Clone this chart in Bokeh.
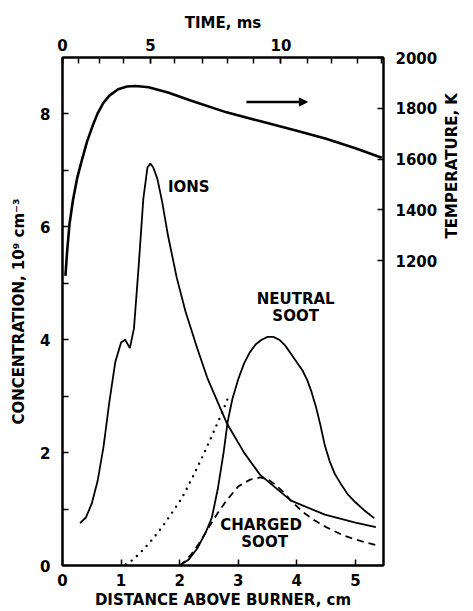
import math
from bokeh.plotting import figure
from bokeh.models import Range1d, LinearAxis, FixedTicker, Label, Arrow, NormalHead
from bokeh.embed import file_html
from bokeh.resources import INLINE

# ---- data (distance above burner, cm) ----
temp_dist = [0.05, 0.08, 0.12, 0.18, 0.25, 0.33, 0.42, 0.51, 0.6, 0.7, 0.8, 0.95, 1.1,
             1.25, 1.47, 1.8, 2.2, 2.8, 3.4, 4.0, 4.5, 5.0, 5.45]
temp_K = [1140, 1240, 1345, 1440, 1525, 1595, 1670, 1728, 1780, 1822, 1850, 1875, 1886,
          1888, 1883, 1862, 1830, 1784, 1748, 1712, 1680, 1643, 1605]

ions_dist = [0.3, 0.4, 0.5, 0.6, 0.7, 0.8, 0.9, 1.0, 1.07, 1.15, 1.22, 1.3, 1.38, 1.45,
             1.5, 1.55, 1.62, 1.7, 1.8, 1.95, 2.1, 2.3, 2.47, 2.81, 3.1, 3.37, 3.9,
             4.48, 5.0, 5.35]
ions = [0.75, 0.85, 1.1, 1.5, 2.1, 2.9, 3.6, 3.95, 4.0, 3.85, 4.2, 5.3, 6.5, 7.05,
        7.12, 7.05, 6.85, 6.45, 5.85, 5.1, 4.5, 3.85, 3.33, 2.51, 2.0, 1.61, 1.15,
        0.9, 0.76, 0.68]

neutral_dist = [2.0, 2.15, 2.3, 2.45, 2.55, 2.65, 2.75, 2.82, 2.9, 3.0, 3.1, 3.2, 3.3,
                3.4, 3.5, 3.6, 3.7, 3.8, 3.9, 4.0, 4.1, 4.18, 4.25, 4.33, 4.4, 4.48,
                4.56, 4.65, 4.75, 4.87, 5.0, 5.15, 5.32]
neutral_soot = [0.0, 0.1, 0.3, 0.6, 0.85, 1.35, 2.0, 2.55, 2.95, 3.3, 3.58, 3.78, 3.92,
                4.0, 4.05, 4.05, 4.0, 3.9, 3.75, 3.6, 3.45, 3.28, 3.08, 2.8, 2.5, 2.12,
                1.85, 1.62, 1.45, 1.26, 1.12, 0.98, 0.84]

charged_dist = [2.0, 2.1, 2.2, 2.35, 2.5, 2.65, 2.8, 3.0, 3.2, 3.37, 3.5, 3.65, 3.8,
                3.9, 4.1, 4.3, 4.5, 4.8, 5.1, 5.4]
charged_soot = [0.0, 0.08, 0.2, 0.42, 0.68, 0.93, 1.15, 1.4, 1.52, 1.56, 1.53, 1.42,
                1.27, 1.15, 0.95, 0.8, 0.68, 0.53, 0.43, 0.35]

dotted_dist = [1.08, 1.2, 1.35, 1.5, 1.7, 1.9, 2.03, 2.2, 2.4, 2.53, 2.7, 2.83]
dotted_vals = [0.02, 0.1, 0.25, 0.42, 0.68, 0.98, 1.18, 1.52, 1.95, 2.25, 2.65, 2.98]

dist_ticks = [0, 1, 2, 3, 4, 5]
conc_ticks = [0, 2, 4, 6, 8]
conc_minor = [1, 3, 5, 7]
temp_ticks = [1200, 1400, 1600, 1800, 2000]
# time axis: positions (cm) of each ms tick, and labelled times
time_tick_cm = [0, 0.28, 0.64, 1.04, 1.5, 1.92, 2.39, 2.81, 3.26, 3.73, 4.18, 4.6, 5.03, 5.45]
time_label_cm = [0, 1.5, 3.73]
time_label_ms = ["0", "5", "10"]

FONT = "DejaVu Sans"

p = figure(width=473, height=611,
           x_range=Range1d(0, 5.48), y_range=Range1d(0, 9),
           output_backend="svg", toolbar_location=None,
           min_border_left=62, min_border_right=83, min_border_top=57, min_border_bottom=46)
p.extra_y_ranges = {"temp": Range1d(0, 2000)}
p.grid.visible = False
p.outline_line_color = "black"
p.outline_line_width = 2
p.background_fill_color = "white"


def style_axis(ax):
    ax.axis_line_width = 2
    ax.axis_line_color = "black"
    ax.major_tick_in = 6
    ax.major_tick_out = 0
    ax.minor_tick_in = 6
    ax.minor_tick_out = 0
    ax.major_tick_line_width = 1.5
    ax.minor_tick_line_width = 1.5
    ax.major_label_text_font = FONT
    ax.major_label_text_font_style = "bold"
    ax.major_label_text_font_size = "15px"
    ax.major_label_text_color = "black"
    ax.axis_label_text_font = FONT
    ax.axis_label_text_font_style = "bold"
    ax.axis_label_text_font_size = "15px"
    ax.axis_label_text_color = "black"


xb = p.xaxis[0]
xb.ticker = FixedTicker(ticks=dist_ticks, minor_ticks=[])
xb.axis_label = "DISTANCE ABOVE BURNER, cm"
style_axis(xb)
xb.major_label_standoff = 8
xb.axis_label_standoff = 2

yl = p.yaxis[0]
yl.ticker = FixedTicker(ticks=conc_ticks, minor_ticks=conc_minor)
yl.axis_label = "CONCENTRATION, 10⁹ cm⁻³"
style_axis(yl)
yl.major_label_standoff = 12
yl.axis_label_standoff = 9

# right axis title reads bottom-to-top, starting from the frame's mid-height;
# non-breaking spaces lift the visible words up beside the temperature ticks
temp_title = "\u00a0" * 14 + "TEMPERATURE, K"
yr = LinearAxis(y_range_name="temp", ticker=FixedTicker(ticks=temp_ticks, minor_ticks=[]),
                axis_label=temp_title)
style_axis(yr)
yr.major_label_standoff = 12
yr.axis_label_standoff = 12
if "axis_label_orientation" in yr.properties():
    yr.axis_label_orientation = math.pi / 2
p.add_layout(yr, "right")

xt = LinearAxis(ticker=FixedTicker(ticks=time_label_cm, minor_ticks=time_tick_cm),
                axis_label="TIME, ms",
                major_label_overrides={k: v for k, v in zip(time_label_cm, time_label_ms)})
style_axis(xt)
xt.major_label_standoff = 7
xt.axis_label_standoff = 4
p.add_layout(xt, "above")

# ---- curves ----
p.line(temp_dist, temp_K, y_range_name="temp", line_color="black", line_width=2.6)
p.line(ions_dist, ions, line_color="black", line_width=1.8)
p.line(neutral_dist, neutral_soot, line_color="black", line_width=1.8)
p.line(charged_dist, charged_soot, line_color="black", line_width=1.8, line_dash="7 5")
p.line(dotted_dist, dotted_vals, line_color="black", line_width=2.4, line_dash="0 7",
       line_cap="round")

# arrow showing temperature curve belongs to right axis
arrow_x = [3.14, 4.18]
arrow_T = 1825
p.add_layout(Arrow(end=NormalHead(size=8, fill_color="black", line_color="black"),
                   x_start=arrow_x[0], y_start=arrow_T, x_end=arrow_x[1], y_end=arrow_T,
                   y_range_name="temp", line_width=2.5, line_color="black"))


def lab(x, y, t, align="center"):
    p.add_layout(Label(x=x, y=y, text=t, text_font=FONT, text_font_style="bold",
                       text_font_size="15px", text_align=align, text_baseline="middle",
                       text_color="black"))


lab(1.8, 6.7, "IONS", "left")
lab(3.98, 4.72, "NEUTRAL")
lab(3.98, 4.42, "SOOT")
lab(3.39, 0.72, "CHARGED")
lab(3.45, 0.42, "SOOT")

open("out.html", "w").write(file_html(p, INLINE))
